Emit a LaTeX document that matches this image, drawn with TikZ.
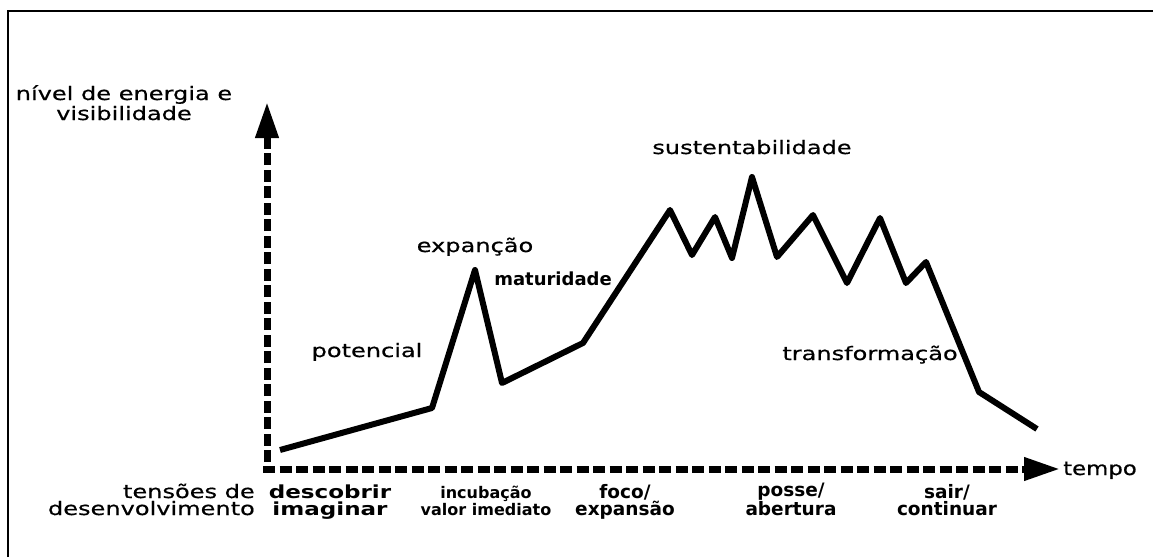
\documentclass[tikz,border=0pt]{standalone}
\usepackage{fontspec}
\setmainfont{DejaVu Sans}
\newfontfamily\widefont[FakeStretch=1.3, FakeBold=0.6]{DejaVu Sans}
\newfontfamily\widebfont[FakeStretch=1.28]{DejaVu Sans}
\newfontfamily\tempofont[FakeStretch=1.2, FakeBold=0.6]{DejaVu Sans}
\usetikzlibrary{arrows.meta}

\begin{document}
\begin{tikzpicture}[x=1pt, y=1pt,
  lbl/.style={font=\widefont\fontsize{18.5}{20}\selectfont, anchor=base, inner sep=0pt, align=center},
  phase/.style={font=\widebfont\bfseries\fontsize{18}{17}\selectfont, anchor=base, inner sep=0pt, align=center},
  stage/.style={font=\bfseries\fontsize{18.5}{17}\selectfont, anchor=base, inner sep=0pt, align=center},
  stagesm/.style={stage, font=\bfseries\fontsize{16}{17}\selectfont},
  axis/.style={line width=7pt, dash pattern=on 12pt off 4.5pt, -{Triangle[length=36pt, width=22pt]}},
  curve/.style={line width=6pt, line join=round}
]
  \useasboundingbox (0,0) rectangle (1153,-557);

  % frame
  \draw[line width=2.6pt] (8,-557) -- (8,-11) -- (1153,-11);

  % axes
  \coordinate (ybase) at (267,-462);
  \coordinate (ytip)  at (267,-102);
  \coordinate (xbase) at (263,-469);
  \coordinate (xtip)  at (1060,-469);
  \draw[axis] (ybase) -- (ytip);
  \draw[axis] (xbase) -- (xtip);

  \node[lbl] (ylab) at (124,-120) {nível de energia e\\visibilidade};
  \node[font=\tempofont\fontsize{19}{20}\selectfont, anchor=base west, inner sep=0pt] (xlab) at (1063,-475) {tempo};

  % energy curve
  \draw[curve] (280,-450) -- (432,-408) -- (475,-270) -- (502,-383) -- (583,-343)
    -- (670,-210) -- (692,-255) -- (715,-217) -- (732,-258) -- (752,-177)
    -- (777,-257) -- (813,-215) -- (847,-283) -- (880,-218) -- (906,-283)
    -- (926,-262) -- (979,-392) -- (1037,-429);

  \node[lbl] (potencial) at (367,-357) {potencial};
  \node[lbl] (expancao) at (475,-252) {expanção};
  \node[lbl, font=\bfseries\fontsize{18}{20}\selectfont] (maturidade) at (553,-285) {maturidade};
  \node[lbl] (sustent) at (752,-154) {sustentabilidade};
  \node[lbl] (transf) at (870,-360) {transformação};

  % tensions
  \node[lbl, anchor=base east, align=right, font=\widefont\fontsize{18.5}{17}\selectfont] (tensoes) at (255,-515) {tensões de\\desenvolvimento};
  \node[phase] (descobrir) at (330,-515) {descobrir\\imaginar};
  \node[stagesm] (incubacao) at (486,-515) {incubação\\valor imediato};
  \node[stage] (foco) at (625,-515) {foco/\\expansão};
  \node[stage] (posse) at (791,-515) {posse/\\abertura};
  \node[stage] (sair) at (947,-515) {sair/\\continuar};

\end{tikzpicture}
\end{document}
